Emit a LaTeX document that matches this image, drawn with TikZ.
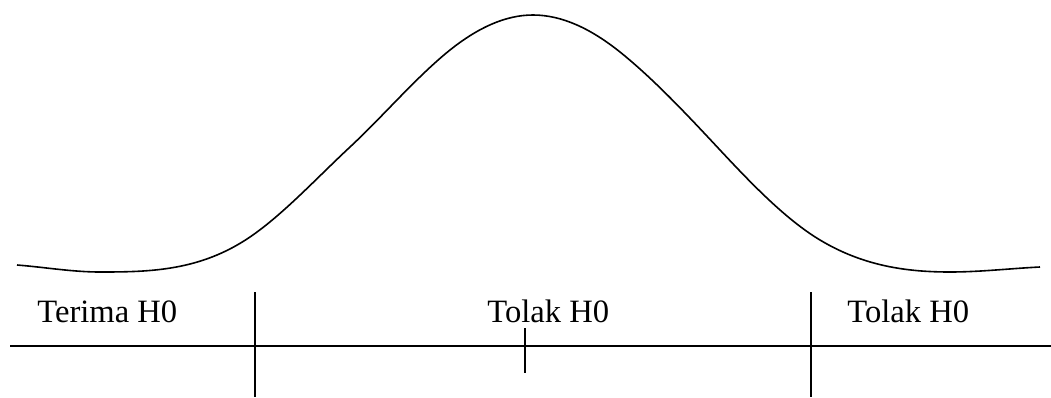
\documentclass[tikz,border=0pt]{standalone}
\usepackage{fontspec}
\setmainfont{Liberation Serif}
\begin{document}
\begin{tikzpicture}[x=0.5pt,y=-0.5pt,
  ln/.style={line width=0.8pt,black},
  lbl/.style={anchor=base west,inner sep=0pt,font=\fontsize{16.3}{19}\selectfont}]
\useasboundingbox (0,0) rectangle (1051,397);
\draw[ln,line join=round] (17,265)
  .. controls (44.7,267.2) and (72.3,272) .. (100,272)
  .. controls (150,272) and (200,271) .. (250,237)
  .. controls (283.3,214.3) and (316.7,178) .. (350,147)
  .. controls (383.3,116) and (416.7,76.7) .. (450,50)
  .. controls (477.7,27.9) and (505.3,15) .. (533,15)
  .. controls (562,15) and (591,28.8) .. (620,52)
  .. controls (653.3,78.7) and (686.7,114.3) .. (720,150)
  .. controls (753.3,185.7) and (786.7,220) .. (820,240)
  .. controls (863.3,266) and (906.7,272) .. (950,272)
  .. controls (980,272) and (1010,268.5) .. (1040,267);
\coordinate (hl) at (10,346);
\coordinate (hr) at (1051,346);
\coordinate (v1t) at (255,292);
\coordinate (v1b) at (255,397);
\coordinate (v2t) at (811,292);
\coordinate (v2b) at (811,397);
\coordinate (mt) at (525,328);
\coordinate (mb) at (525,373);
\draw[ln] (hl) -- (hr);
\draw[ln] (v1t) -- (v1b);
\draw[ln] (v2t) -- (v2b);
\draw[ln] (mt) -- (mb);
\node[lbl] (t1) at (37,322) {Terima H0};
\node[lbl] (t2) at (487,322) {Tolak H0};
\node[lbl] (t3) at (847,322) {Tolak H0};
\end{tikzpicture}
\end{document}
